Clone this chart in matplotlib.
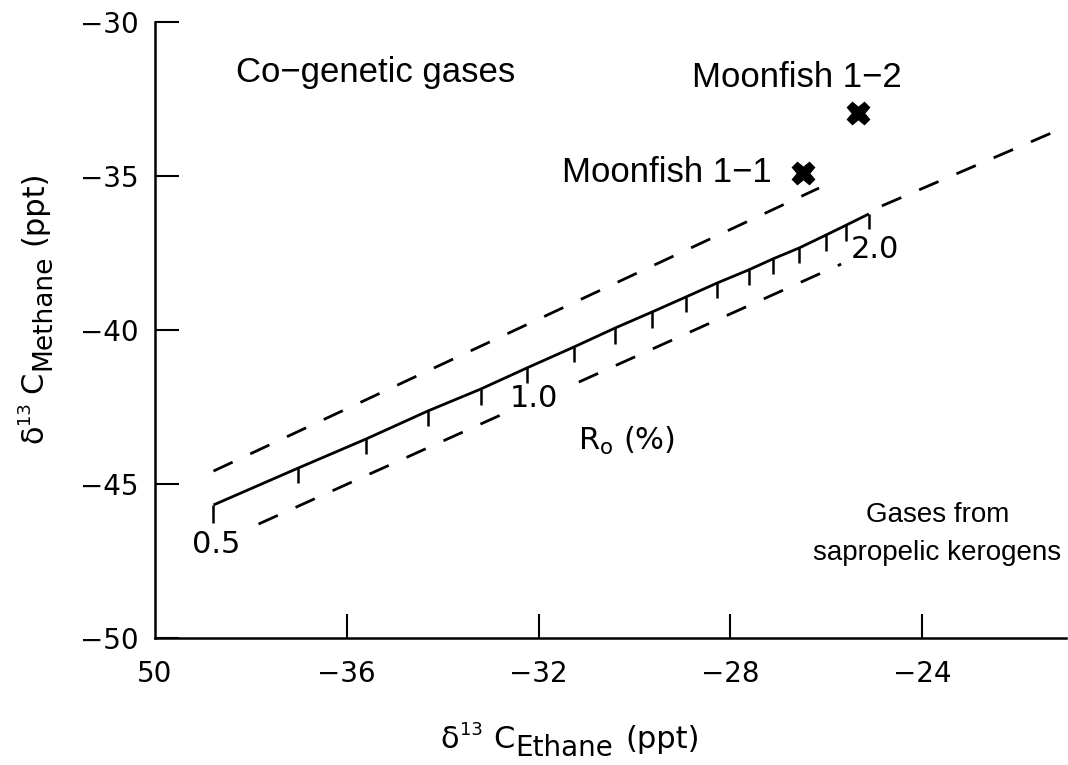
import numpy as np
import matplotlib
matplotlib.use("Agg")
import matplotlib.pyplot as plt
from matplotlib import font_manager

# maturity (Ro) line, one point per tick
ro_ethane = [-38.78, -37.01, -35.60, -34.31, -33.21, -32.24, -31.26, -30.41, -29.64,
             -28.93, -28.27, -27.62, -27.11, -26.57, -26.01, -25.59, -25.11]
ro_methane = [-45.68, -44.48, -43.54, -42.63, -41.92, -41.23, -40.55, -39.94, -39.42,
              -38.93, -38.47, -38.05, -37.69, -37.34, -36.92, -36.60, -36.23]

# dashed envelope lines; the lower one is broken where "1.0" sits
upper_ethane = [-38.78, -26.15]
upper_methane = [-44.58, -35.39]
lower_a_ethane = [-37.84, -32.69]
lower_a_methane = [-46.30, -42.69]
lower_b_ethane = [-31.16, -25.69]
lower_b_methane = [-41.69, -37.86]
ext_ethane = [-24.84, -21.06]
ext_methane = [-35.97, -33.44]

# samples
samples = ["Moonfish 1\u22121", "Moonfish 1\u22122"]
sample_ethane = [-26.48, -25.34]
sample_methane = [-34.90, -32.95]

xticks = [-40, -36, -32, -28, -24]
xtick_labels = ["50", "\u221236", "\u221232", "\u221228", "\u221224"]
yticks = [-50, -45, -40, -35, -30]
ytick_labels = ["\u221250", "\u221245", "\u221240", "\u221235", "\u221230"]

W, H = 1068, 765


def rich_label(fig, x0, y0, pieces, vertical=False):
    # pieces: (text, fontsize, shift_px, gap_px_after); x0, y0 are pixel coords from top-left
    renderer = fig.canvas.get_renderer()
    pos = 0.0
    for s, size, shift, gap in pieces:
        if vertical:
            t = fig.text((x0 + shift) / W, 1 - (y0 - pos) / H, s, fontsize=size,
                         rotation=90, rotation_mode="anchor", ha="left", va="baseline")
            pos += t.get_window_extent(renderer).height + gap
        else:
            t = fig.text((x0 + pos) / W, 1 - (y0 + shift) / H, s, fontsize=size,
                         ha="left", va="baseline")
            pos += t.get_window_extent(renderer).width + gap


def main():
    names = {f.name for f in font_manager.fontManager.ttflist}
    word_font = "Liberation Sans" if "Liberation Sans" in names else "DejaVu Sans"
    if "Liberation Sans Narrow" in names:
        corner_font, corner_size = "Liberation Sans Narrow", 23
    else:
        corner_font, corner_size = word_font, 20

    fig = plt.figure(figsize=(W / 100, H / 100), dpi=100)
    ax = fig.add_axes([155 / W, 127 / H, 911 / W, 616 / H])

    # Ro line with hanging ticks
    ax.plot(ro_ethane, ro_methane, color="black", lw=2.0, solid_capstyle="butt")
    tick_len = [0.6] + [0.5] * (len(ro_ethane) - 1)
    ax.vlines(ro_ethane, np.array(ro_methane) - np.array(tick_len), ro_methane,
              color="black", lw=1.8)

    for xs, ys in [(upper_ethane, upper_methane), (lower_a_ethane, lower_a_methane),
                   (lower_b_ethane, lower_b_methane), (ext_ethane, ext_methane)]:
        ax.plot(xs, ys, color="black", lw=2.0, dashes=(7.6, 7))

    ax.plot(sample_ethane, sample_methane, linestyle="none", marker="X",
            markersize=16, color="black", markeredgecolor="black")

    fs = 22
    ax.text(-39.23, -47.24, "0.5", fontsize=fs, ha="left", va="baseline")
    ax.text(-32.61, -42.50, "1.0", fontsize=fs, ha="left", va="baseline")
    ax.text(-25.49, -37.66, "2.0", fontsize=fs, ha="left", va="baseline")
    ax.text(-31.18, -43.90, r"R$_\mathregular{o}$ (%)", fontsize=fs, ha="left", va="baseline")

    wf = 25
    ax.text(-38.32, -31.95, "Co\u2212genetic gases", fontsize=wf, family=word_font,
            ha="left", va="baseline")
    ax.text(-31.51, -35.19, samples[0], fontsize=wf, family=word_font, ha="left", va="baseline")
    ax.text(-28.81, -32.11, samples[1], fontsize=wf, family=word_font, ha="left", va="baseline")
    ax.text(-23.68, -46.25, "Gases from", fontsize=corner_size, family=corner_font,
            ha="center", va="baseline")
    ax.text(-23.68, -47.48, "sapropelic kerogens", fontsize=corner_size, family=corner_font,
            ha="center", va="baseline")

    ax.set_xlim(-39.92, -21.0)
    ax.set_ylim(-50, -30)
    ax.set_xticks(xticks)
    ax.set_xticklabels(xtick_labels)
    ax.set_yticks(yticks)
    ax.set_yticklabels(ytick_labels)
    ax.tick_params(direction="in", length=17, width=1.5, labelsize=20)
    ax.tick_params(axis="x", pad=16)
    ax.tick_params(axis="y", pad=12)
    ax.xaxis.get_major_ticks()[0].tick1line.set_visible(False)

    for side in ["top", "right"]:
        ax.spines[side].set_visible(False)
    for side in ["left", "bottom"]:
        ax.spines[side].set_linewidth(1.8)

    # axis titles built from pieces so the subscripts stay large like the original
    rich_label(fig, 440, 748, [("\u03b4", 22, 0, 1), ("13", 13, -13, 11),
                               ("C", 22, 0, 1), ("Ethane", 20, 8, 12),
                               ("(ppt)", 22, 0, 0)])
    rich_label(fig, 42, 443, [("\u03b4", 22, 0, 1), ("13", 13, -13, 8),
                              ("C", 22, 0, 1), ("Methane", 19, 8, 10),
                              ("(ppt)", 22, 0, 0)], vertical=True)

    fig.savefig("out.png", dpi=100)


if __name__ == "__main__":
    main()
